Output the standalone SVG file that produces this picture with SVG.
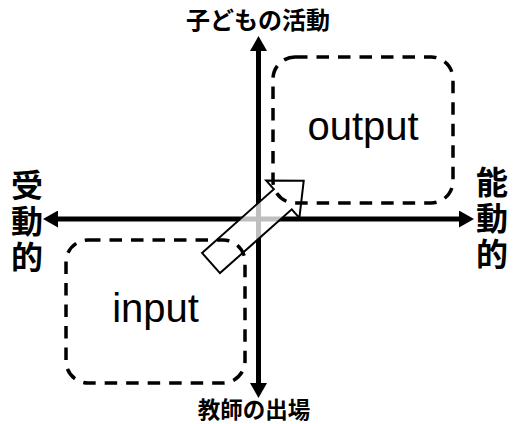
<svg xmlns="http://www.w3.org/2000/svg" width="514" height="424" viewBox="0 0 514 424">
  <style>
    .axis { stroke: #000; stroke-width: 5; fill: none; }
    .zone { fill: none; stroke: #000; stroke-width: 3.5; stroke-dasharray: 12.5 9; }
    .label { font-family: "Noto Sans CJK JP", "Noto Sans", sans-serif; font-weight: 700; fill: #000; text-anchor: middle; }
    .side { font-size: 32px; writing-mode: vertical-rl; letter-spacing: 4px; }
    .word { font-family: "Liberation Sans", Arial, sans-serif; font-size: 40px; fill: #000; text-anchor: middle; }
    .flow { fill: #fff; fill-opacity: 0.75; stroke: #000; stroke-width: 2; stroke-linejoin: miter; }
  </style>
  <defs>
    <marker id="head" markerUnits="userSpaceOnUse" viewBox="0 0 15 17" markerWidth="15" markerHeight="17" refX="5" refY="8.5" orient="auto-start-reverse">
      <path d="M0,0 L15,8.5 L0,17 z" fill="#000"/>
    </marker>
  </defs>

  <rect width="514" height="424" fill="#fff"/>

  <!-- axes -->
  <g id="connectors">
    <line class="axis" x1="258.5" y1="388" x2="258.5" y2="46" marker-start="url(#head)" marker-end="url(#head)"/>
    <line class="axis" x1="464" y1="219" x2="53" y2="219" marker-start="url(#head)" marker-end="url(#head)"/>
  </g>

  <!-- hollow block arrow from input to output -->
  <g id="shift-arrow" transform="translate(211,263) rotate(-41.6)">
    <polygon class="flow" points="0,-13.5 96,-13.5 96,-25 124,0 96,25 96,13.5 0,13.5"/>
  </g>

  <!-- dashed zones -->
  <g id="output">
    <rect class="zone" x="273" y="57" width="180" height="146" rx="22" ry="22"/>
    <text class="word" x="363" y="140">output</text>
  </g>
  <g id="input">
    <rect class="zone" x="66" y="240" width="179" height="143" rx="22" ry="22"/>
    <text class="word" x="155.5" y="322">input</text>
  </g>

  <!-- axis labels -->
  <g id="label-top">
    <text class="label" x="258" y="29" font-size="24">子どもの活動</text>
  </g>
  <g id="label-bottom">
    <text class="label" x="254" y="418" font-size="22.5">教師の出場</text>
  </g>
  <g id="label-left">
    <text class="label side" x="27" y="223">受動的</text>
  </g>
  <g id="label-right">
    <text class="label side" x="492" y="220">能動的</text>
  </g>
</svg>
